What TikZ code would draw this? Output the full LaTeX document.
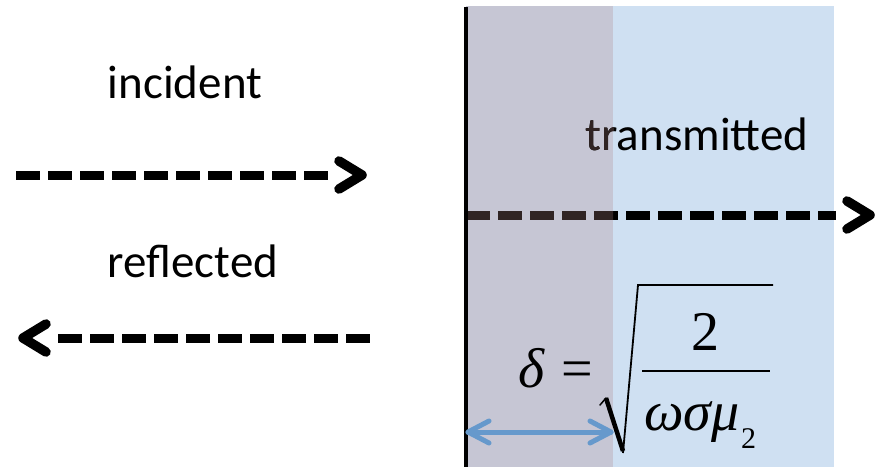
\documentclass[tikz,border=0pt]{standalone}
\usepackage{fontspec}
\setmainfont{Carlito}
\newfontfamily\fserif{Liberation Serif}
\usetikzlibrary{calc}
\definecolor{skin}{RGB}{198,198,212}
\definecolor{bluebg}{RGB}{207,224,242}
\definecolor{arrblue}{RGB}{102,153,204}
\definecolor{darkbr}{RGB}{48,36,36}
\begin{document}
\begin{tikzpicture}[x=1pt,y=-1pt,
  wave/.style={line width=9pt, dash pattern=on 24pt off 8pt},
  chev/.style={line width=9.5pt, line cap=round, line join=round},
  shade/.style={black!22, opacity=0.6, shift={(1.5pt,-3.5pt)}},
  dbl/.style={arrblue, line width=5pt, line cap=round, line join=round},
  lbl/.style={font=\fontsize{47}{50}\selectfont, inner sep=0pt, anchor=base},
  mth/.style={font=\fserif\fontsize{56}{60}\selectfont, inner sep=0pt},
  msub/.style={font=\fserif\fontsize{30}{34}\selectfont, inner sep=0pt}]
\useasboundingbox (0,0) rectangle (876,467);
\fill[white] (0,0) rectangle (876,467);
% regions
\fill[skin] (466,6) rectangle (613,467);
\fill[bluebg] (613,6) rectangle (834,467);
% coordinates
\coordinate (i0) at (16,175);  \coordinate (i1) at (328,175); \coordinate (itip) at (362,175);
\coordinate (r0) at (58,338);  \coordinate (r1) at (370,338); \coordinate (rtip) at (23,338);
\coordinate (t0) at (466,215); \coordinate (t1) at (836,215); \coordinate (ttip) at (870,215);
\coordinate (d0) at (468,432); \coordinate (d1) at (611,432);
% shadows
\begin{scope}[shade]
  \draw[wave] (i0) -- (i1);
  \draw[chev] ($(itip)+(-23,-14)$) -- (itip) -- ($(itip)+(-23,14)$);
  \draw[wave] (r0) -- (r1);
  \draw[chev] ($(rtip)+(23,-14)$) -- (rtip) -- ($(rtip)+(23,14)$);
  \draw[wave] (t0) -- (t1);
  \draw[chev] ($(ttip)+(-23,-14)$) -- (ttip) -- ($(ttip)+(-23,14)$);
\end{scope}
% arrows
\draw[wave] (i0) -- (i1);
\draw[chev] ($(itip)+(-23,-14)$) -- (itip) -- ($(itip)+(-23,14)$);
\draw[wave] (r0) -- (r1);
\draw[chev] ($(rtip)+(23,-14)$) -- (rtip) -- ($(rtip)+(23,14)$);
\draw[wave] (t0) -- (t1);
\draw[chev] ($(ttip)+(-23,-14)$) -- (ttip) -- ($(ttip)+(-23,14)$);
% texts
\node[lbl] (inc) at (185,98) {incident};
\node[lbl] (refl) at (193,277) {reflected};
\node[lbl] (trans) at (697,150) {transmitted};
% tinted part inside the grey layer
\begin{scope}
  \clip (468,0) rectangle (613,467);
  \draw[wave, darkbr] (t0) -- (t1);
  \node[lbl, text=darkbr] (trans2) at (697,150) {transmitted};
\end{scope}
% interface
\draw[line width=4.5pt] (466,7) -- (466,467);
% skin depth arrow
\draw[dbl] (d0) -- (d1);
\draw[dbl] ($(d0)+(21,-11)$) -- (d0) -- ($(d0)+(21,11)$);
\draw[dbl] ($(d1)+(-21,-11)$) -- (d1) -- ($(d1)+(-21,11)$);
% formula
\node[mth, anchor=base west] (delta) at (518,387) {\itshape δ};
\node[mth, anchor=base west] (eq) at (561,387) {=};
\node[mth, anchor=base] (num) at (705,350) {2};
\node[mth, anchor=base west] (den) at (644,430) {\itshape ωσμ};
\node[msub, anchor=base west] (sub) at (741,448) {2};
\draw[line width=2.2pt] (642,371) -- (770,371);
\draw[line width=1.5pt, line cap=round] (600,405) -- (606,398);
\draw[line width=4.5pt] (606,398) -- (623,451);
\draw[line width=1.8pt, line join=miter] (623,453) -- (638,285) -- (773,285);
\end{tikzpicture}
\end{document}
